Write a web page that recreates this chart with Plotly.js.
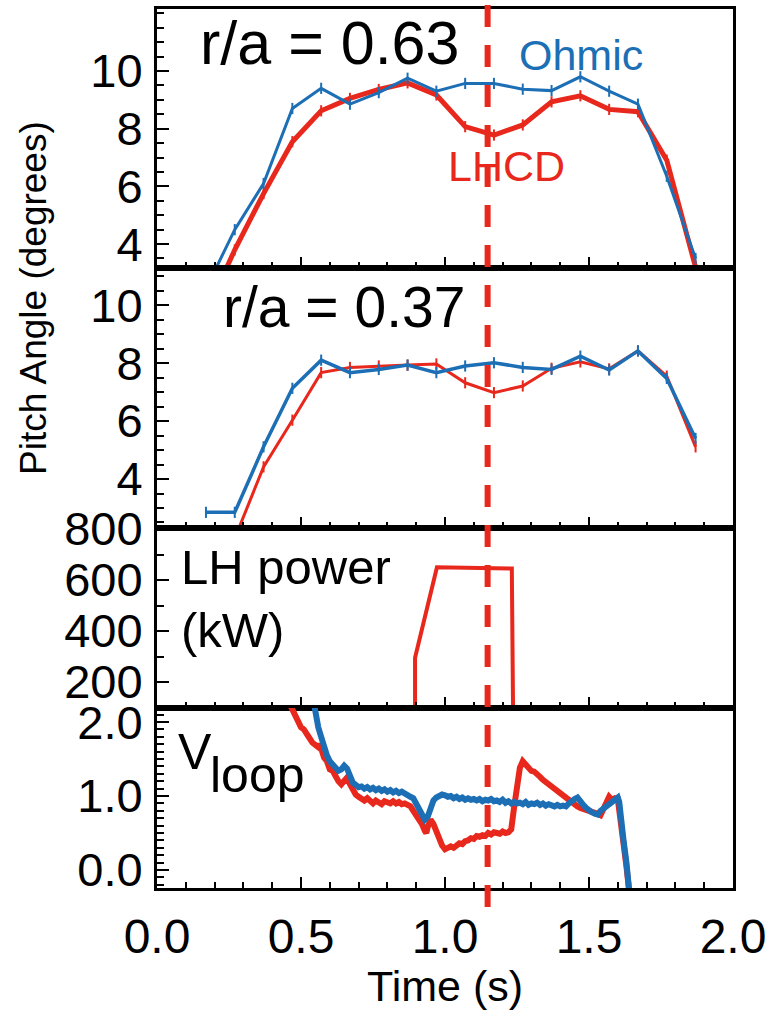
<!DOCTYPE html>
<html>
<head>
<meta charset="utf-8">
<script src="https://cdn.plot.ly/plotly-3.0.1.min.js"></script>
<style>html,body{margin:0;padding:0;background:#fff;}#chart{width:770px;height:1011px;}</style>
</head>
<body>
<div id="chart"></div>
<script>
// ---------- DATA ----------
// Panel 1: pitch angle at r/a = 0.63 (degrees)
const p1Time = [0.17, 0.27, 0.37, 0.47, 0.57, 0.67, 0.77, 0.87, 0.97, 1.07, 1.17, 1.27, 1.37, 1.47, 1.57, 1.67, 1.77, 1.87];
const p1Ohmic = [2.45, 4.5, 6.1, 8.7, 9.4, 8.85, 9.25, 9.75, 9.3, 9.57, 9.57, 9.37, 9.32, 9.8, 9.3, 8.85, 6.35, 3.5];
const p1LHCD  = [1.6, 3.8, 5.75, 7.55, 8.62, 9.05, 9.36, 9.59, 9.17, 8.07, 7.78, 8.13, 8.93, 9.14, 8.67, 8.59, 6.91, 3.2];

// Panel 2: pitch angle at r/a = 0.37 (degrees)
const p2Time = [0.17, 0.27, 0.37, 0.47, 0.57, 0.67, 0.77, 0.87, 0.97, 1.07, 1.17, 1.27, 1.37, 1.47, 1.57, 1.67, 1.77, 1.87];
const p2Ohmic = [2.85, 2.85, 5.11, 7.13, 8.1, 7.67, 7.78, 7.93, 7.67, 7.9, 8.01, 7.85, 7.78, 8.24, 7.76, 8.42, 7.47, 5.4];
const p2LHCDTime = [0.27, 0.37, 0.47, 0.57, 0.67, 0.77, 0.87, 0.97, 1.07, 1.17, 1.27, 1.37, 1.47, 1.57, 1.67, 1.77, 1.87];
const p2LHCD  = [1.95, 4.42, 6.03, 7.67, 7.85, 7.9, 7.93, 7.97, 7.32, 6.98, 7.21, 7.82, 8.04, 7.8, 8.42, 7.55, 5.11];

// Panel 3: LH power (kW)
const lhTime = [0.896, 0.896, 0.972, 1.10, 1.232, 1.237];
const lhPower = [0, 295, 650, 648, 645, 0];
const lhOhmicTime = [0, 2];
const lhOhmicPower = [100, 100];

// Panel 4: loop voltage (V)
const vTimeLHCD = [0.46,0.47,0.48,0.49,0.50,0.51,0.52,0.53,0.54,0.55,0.56,0.565,0.57,0.58,0.59,0.60,0.61,0.62,0.63,0.64,0.65,0.66,0.67,0.68,0.69,0.70,0.71,0.72,0.73,0.74,0.75,0.76,0.77,0.78,0.79,0.80,0.81,0.82,0.83,0.84,0.85,0.86,0.87,0.88,0.89,0.90,0.91,0.92,0.93,0.935,0.94,0.95,0.96,0.97,0.98,0.99,1.00,1.01,1.02,1.03,1.04,1.05,1.06,1.07,1.08,1.09,1.10,1.11,1.12,1.13,1.14,1.15,1.16,1.17,1.18,1.19,1.20,1.21,1.22,1.23,1.24,1.25,1.26,1.27,1.28,1.29,1.30,1.31,1.32,1.33,1.34,1.35,1.36,1.37,1.38,1.39,1.40,1.41,1.42,1.43,1.44,1.45,1.46,1.47,1.48,1.49,1.50,1.51,1.52,1.53,1.54,1.55,1.56,1.57,1.58,1.59,1.60,1.61,1.62,1.63,1.64];
const vLHCD = [2.25,2.16,2.08,2.02,1.93,1.90,1.82,1.78,1.72,1.68,1.66,1.71,1.62,1.52,1.47,1.36,1.34,1.26,1.20,1.16,1.22,1.25,1.16,1.08,1.02,0.99,0.96,0.94,0.97,0.92,0.90,0.94,0.92,0.89,0.93,0.91,0.90,0.93,0.90,0.92,0.89,0.90,0.88,0.86,0.80,0.74,0.70,0.62,0.53,0.50,0.58,0.68,0.62,0.52,0.42,0.33,0.28,0.30,0.32,0.30,0.34,0.36,0.35,0.39,0.40,0.43,0.42,0.46,0.45,0.47,0.46,0.50,0.48,0.51,0.50,0.49,0.52,0.50,0.51,0.55,0.85,1.20,1.38,1.47,1.42,1.40,1.34,1.33,1.28,1.26,1.22,1.19,1.16,1.12,1.10,1.06,1.02,1.00,0.97,0.95,0.90,0.88,0.86,0.84,0.83,0.82,0.80,0.79,0.78,0.76,0.74,0.82,0.93,0.99,0.95,0.97,0.96,0.70,0.35,0.05,-0.30];
const vTimeOhmic = [0.545,0.55,0.56,0.57,0.58,0.59,0.60,0.61,0.62,0.63,0.64,0.65,0.66,0.67,0.68,0.69,0.70,0.71,0.72,0.73,0.74,0.75,0.76,0.77,0.78,0.79,0.80,0.81,0.82,0.83,0.84,0.85,0.86,0.87,0.88,0.89,0.90,0.91,0.92,0.93,0.94,0.95,0.96,0.97,0.98,0.99,1.00,1.01,1.02,1.03,1.04,1.05,1.06,1.07,1.08,1.09,1.10,1.11,1.12,1.13,1.14,1.15,1.16,1.17,1.18,1.19,1.20,1.21,1.22,1.23,1.24,1.25,1.26,1.27,1.28,1.29,1.30,1.31,1.32,1.33,1.34,1.35,1.36,1.37,1.38,1.39,1.40,1.41,1.42,1.43,1.44,1.45,1.46,1.47,1.48,1.49,1.50,1.51,1.52,1.53,1.54,1.55,1.56,1.57,1.58,1.59,1.60,1.605,1.61,1.62,1.63,1.64];
const vOhmic = [2.25,2.12,1.93,1.80,1.64,1.55,1.47,1.42,1.38,1.34,1.36,1.41,1.37,1.26,1.18,1.15,1.12,1.13,1.10,1.12,1.09,1.11,1.08,1.10,1.07,1.09,1.06,1.08,1.05,1.07,1.04,1.06,1.03,1.02,0.99,0.97,0.90,0.82,0.74,0.68,0.72,0.84,0.94,0.98,1.00,1.02,1.01,0.99,1.00,0.97,0.99,0.96,0.98,0.95,0.97,0.95,0.96,0.94,0.96,0.93,0.95,0.94,0.96,0.93,0.94,0.92,0.95,0.91,0.93,0.90,0.92,0.90,0.91,0.89,0.92,0.88,0.90,0.89,0.91,0.88,0.90,0.87,0.89,0.88,0.86,0.88,0.86,0.87,0.86,0.90,0.94,0.96,0.98,0.92,0.88,0.84,0.80,0.78,0.76,0.75,0.80,0.83,0.86,0.89,0.92,0.95,0.98,0.92,0.70,0.40,0.10,-0.30];

// Time of the profile comparison (dashed line)
const markTime = 1.148;

// Axis tick labels
const xTickVals = [0, 0.5, 1.0, 1.5, 2.0];
const pitchTickVals = [4, 6, 8, 10];
const powerTickVals = [200, 400, 600, 800];
const vloopTickVals = [0, 1, 2];

// ---------- STYLE ----------
const RED = '#e8281c';
const BLUE = '#1c6fb5';
const FONT = 'Liberation Sans, Arial, Helvetica, sans-serif';

function tr(x, y, color, width, xa, ya, markers) {
  const t = {x: x, y: y, type: 'scatter', mode: markers ? 'lines+markers' : 'lines',
    line: {color: color, width: width}, xaxis: xa, yaxis: ya, showlegend: false, hoverinfo: 'skip'};
  if (markers) t.marker = {symbol: 'line-ns', size: 8, color: color, line: {color: color, width: 2}};
  return t;
}

const data = [
  tr(p1Time, p1LHCD, RED, 5, 'x', 'y', true),
  tr(p1Time, p1Ohmic, BLUE, 3, 'x', 'y', true),
  tr(p2LHCDTime, p2LHCD, RED, 3, 'x2', 'y2', true),
  tr(p2Time, p2Ohmic, BLUE, 3.5, 'x2', 'y2', true),
  tr(lhOhmicTime, lhOhmicPower, '#1a5a96', 4, 'x3', 'y3', false),
  tr(lhTime, lhPower, RED, 4, 'x3', 'y3', false),
  tr(vTimeLHCD, vLHCD, RED, 6, 'x4', 'y4', false),
  tr(vTimeOhmic, vOhmic, BLUE, 6, 'x4', 'y4', false)
];

const H = 879, W = 576, TOP = 9, BOT = 888, LEFT = 157;
function py(p) { return (BOT - p) / H; }
function px(p) { return (p - LEFT) / W; }

function xAxis(anchor, labels) {
  return {
    domain: [0, 1], range: [0, 2], anchor: anchor,
    showline: true, mirror: true, linecolor: '#000', linewidth: 3,
    showgrid: false, zeroline: false,
    ticks: 'inside', ticklen: 11, tickwidth: 2, tickcolor: '#000',
    tickvals: xTickVals, tickformat: '.1f',
    minor: {ticks: 'inside', ticklen: 6, tickwidth: 2, tickcolor: '#000', dtick: 0.1, tick0: 0, showgrid: false},
    showticklabels: labels,
    ticklabelstandoff: 4,
    tickfont: {family: FONT, size: 48, color: '#000'},
    fixedrange: true
  };
}
function yAxis(anchor, dom, rng, tickvals, minorDtick, fmt) {
  return {
    domain: dom, range: rng, anchor: anchor,
    showline: true, mirror: true, linecolor: '#000', linewidth: 3,
    showgrid: false, zeroline: false,
    ticks: 'inside', ticklen: 12, tickwidth: 2, tickcolor: '#000',
    tickvals: tickvals, tickformat: fmt,
    minor: {ticks: 'inside', ticklen: 7, tickwidth: 2, tickcolor: '#000', dtick: minorDtick, tick0: 0, showgrid: false},
    tickfont: {family: FONT, size: 47, color: '#000'},
    ticklabelstandoff: 2,
    fixedrange: true
  };
}

const layout = {
  width: 770, height: 1011,
  margin: {l: LEFT, r: 770 - 733, t: TOP, b: 1011 - BOT},
  paper_bgcolor: '#fff', plot_bgcolor: '#fff',
  font: {family: FONT, color: '#000'},
  showlegend: false,
  xaxis: xAxis('y', false),
  xaxis2: xAxis('y2', false),
  xaxis3: xAxis('y3', false),
  xaxis4: xAxis('y4', true),
  yaxis: yAxis('x', [py(268), 1], [3.17, 12.15], pitchTickVals, 0.5, ''),
  yaxis2: yAxis('x2', [py(528), py(268)], [2.31, 11.28], pitchTickVals, 0.5, ''),
  yaxis3: yAxis('x3', [py(708), py(528)], [98, 804], powerTickVals, 100, ''),
  yaxis4: yAxis('x4', [0, py(708)], [-0.243, 2.19], vloopTickVals, 0.1, '.1f'),
  shapes: [{
    type: 'line', xref: 'x4', yref: 'paper',
    x0: markTime, x1: markTime, y0: py(5), y1: py(925),
    line: {color: RED, width: 6, dash: '22px,18px'}
  }],
  annotations: [
    {text: 'r/a = 0.63', xref: 'paper', yref: 'paper', x: px(198), y: py(43), xanchor: 'left', yanchor: 'middle', showarrow: false, font: {family: FONT, size: 61, color: '#000'}},
    {text: 'Ohmic', xref: 'paper', yref: 'paper', x: px(517), y: py(55), xanchor: 'left', yanchor: 'middle', showarrow: false, font: {family: FONT, size: 43, color: BLUE}},
    {text: 'LHCD', xref: 'paper', yref: 'paper', x: px(446), y: py(166), xanchor: 'left', yanchor: 'middle', showarrow: false, font: {family: FONT, size: 43, color: RED}},
    {text: 'r/a = 0.37', xref: 'paper', yref: 'paper', x: px(221), y: py(307), xanchor: 'left', yanchor: 'middle', showarrow: false, font: {family: FONT, size: 57, color: '#000'}},
    {text: 'LH power', xref: 'paper', yref: 'paper', x: px(179), y: py(567), xanchor: 'left', yanchor: 'middle', showarrow: false, font: {family: FONT, size: 49, color: '#000'}},
    {text: '(kW)', xref: 'paper', yref: 'paper', x: px(179), y: py(630), xanchor: 'left', yanchor: 'middle', showarrow: false, font: {family: FONT, size: 49, color: '#000'}},
    {text: 'V', xref: 'paper', yref: 'paper', x: px(176), y: py(752), xanchor: 'left', yanchor: 'middle', showarrow: false, font: {family: FONT, size: 50, color: '#000'}},
    {text: 'loop', xref: 'paper', yref: 'paper', x: px(208), y: py(775), xanchor: 'left', yanchor: 'middle', showarrow: false, font: {family: FONT, size: 50, color: '#000'}},
    {text: 'Pitch Angle (degrees)', xref: 'paper', yref: 'paper', x: px(33), y: py(298), xanchor: 'center', yanchor: 'middle', textangle: -90, showarrow: false, font: {family: FONT, size: 37, color: '#000'}},
    {text: 'Time (s)', xref: 'paper', yref: 'paper', x: 0.5, y: py(986), xanchor: 'center', yanchor: 'middle', showarrow: false, font: {family: FONT, size: 43, color: '#000'}}
  ]
};

Plotly.newPlot('chart', data, layout, {staticPlot: true, displayModeBar: false});
</script>
</body>
</html>
